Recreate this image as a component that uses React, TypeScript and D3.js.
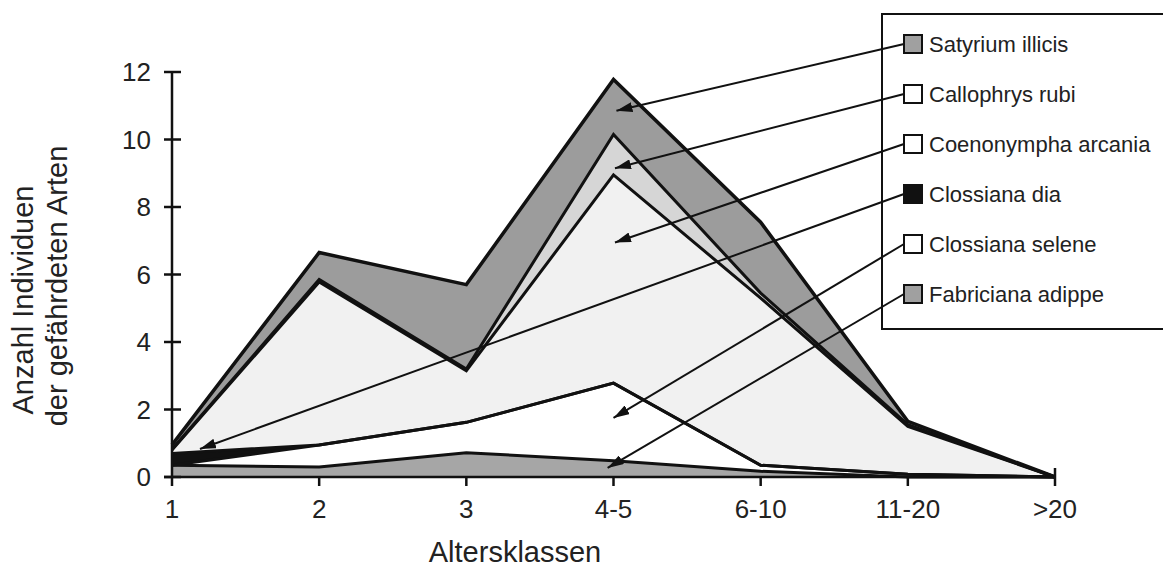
import React, { useRef, useEffect } from 'react';
import * as d3 from 'd3';

// Altersklassen (x categories)
const categories = ['1', '2', '3', '4-5', '6-10', '11-20', '>20'];
const yTicks = [0, 2, 4, 6, 8, 10, 12];

// Individuals per species and age class (read from the stacked areas)
const fabricianaAdippe = [0.35, 0.3, 0.72, 0.48, 0.17, 0, 0];
const clossianaSelene = [0, 0.65, 0.9, 2.3, 0.18, 0.08, 0];
const clossianaDia = [0.35, 0, 0, 0, 0, 0, 0];
const coenonymphaArcania = [0.1, 4.83, 1.53, 6.17, 4.95, 1.42, 0];
const callophrysRubi = [0.02, 0.07, 0.05, 1.2, 0.15, 0.05, 0];
const satyriumIllicis = [0.13, 0.8, 2.5, 1.63, 2.1, 0.1, 0];

// legend order (top to bottom)
const legendNames = [
  'Satyrium illicis',
  'Callophrys rubi',
  'Coenonympha arcania',
  'Clossiana dia',
  'Clossiana selene',
  'Fabriciana adippe'
];

// where each leader arrow points: category position (index) and value
const arrowAt = [3.02, 3.01, 3.01, 0.19, 3.0, 2.96];
const arrowValue = [10.85, 9.15, 6.95, 0.83, 1.75, 0.27];

const W = 1163;
const H = 570;
const FONT = '"Liberation Sans", Arial, Helvetica, sans-serif';

export default function App() {
  const svgRef = useRef<SVGSVGElement>(null);

  useEffect(() => {
    if (!svgRef.current) return;
    const svg = d3.select(svgRef.current);
    svg.selectAll('*').remove();

    const x = d3.scalePoint<string>().domain(categories).range([172, 1055]);
    const xi = d3.scaleLinear().domain([0, categories.length - 1]).range([172, 1055]);
    const y = d3.scaleLinear().domain([0, 12]).range([477, 72]);

    // stacked from the ground up
    const series = [
      { name: 'Fabriciana adippe', values: fabricianaAdippe, fill: '#a6a6a6', swatch: '#a0a0a0' },
      { name: 'Clossiana selene', values: clossianaSelene, fill: '#ffffff', swatch: '#ffffff' },
      { name: 'Clossiana dia', values: clossianaDia, fill: '#111111', swatch: '#111111' },
      { name: 'Coenonympha arcania', values: coenonymphaArcania, fill: '#f1f1f1', swatch: '#ffffff' },
      { name: 'Callophrys rubi', values: callophrysRubi, fill: '#d6d6d6', swatch: '#ffffff' },
      { name: 'Satyrium illicis', values: satyriumIllicis, fill: '#9c9c9c', swatch: '#a0a0a0' }
    ];

    const table = categories.map((c, i) => {
      const row: Record<string, any> = { cat: c };
      series.forEach(s => { row[s.name] = s.values[i]; });
      return row;
    });

    const stacked = d3.stack<any>().keys(series.map(s => s.name))(table);

    const area = d3.area<any>()
      .x(d => x(d.data.cat)!)
      .y0(d => y(d[0]))
      .y1(d => y(d[1]));

    const topLine = d3.line<any>()
      .x(d => x(d.data.cat)!)
      .y(d => y(d[1]));

    const defs = svg.append('defs');
    defs.append('marker')
      .attr('id', 'arrowhead')
      .attr('viewBox', '0 0 16 10')
      .attr('refX', 16)
      .attr('refY', 5)
      .attr('markerWidth', 16)
      .attr('markerHeight', 10)
      .attr('markerUnits', 'userSpaceOnUse')
      .attr('orient', 'auto')
      .append('path')
      .attr('d', 'M0,0 L16,5 L0,10 Z')
      .attr('fill', '#111');

    const g = svg.append('g');

    // areas
    g.selectAll('.layer')
      .data(stacked)
      .enter()
      .append('path')
      .attr('class', 'layer')
      .attr('fill', (d, i) => series[i].fill)
      .attr('d', area);

    // outlines
    g.selectAll('.edge')
      .data(stacked)
      .enter()
      .append('path')
      .attr('class', 'edge')
      .attr('fill', 'none')
      .attr('stroke', '#111')
      .attr('stroke-width', (d, i) => (i === stacked.length - 1 ? 3.5 : 3))
      .attr('stroke-linejoin', 'miter')
      .attr('d', topLine);

    // y axis
    g.append('line')
      .attr('x1', 172).attr('x2', 172)
      .attr('y1', y(0)).attr('y2', y(12))
      .attr('stroke', '#111').attr('stroke-width', 2.5);

    g.selectAll('.ytick')
      .data(yTicks)
      .enter()
      .append('line')
      .attr('x1', 164).attr('x2', 181)
      .attr('y1', d => y(d)).attr('y2', d => y(d))
      .attr('stroke', '#111').attr('stroke-width', 2.5);

    g.selectAll('.ylabel')
      .data(yTicks)
      .enter()
      .append('text')
      .attr('x', 151)
      .attr('y', d => y(d) + 9)
      .attr('text-anchor', 'end')
      .attr('font-family', FONT)
      .attr('font-size', 26)
      .attr('fill', '#222')
      .text(d => d);

    // x axis
    g.append('line')
      .attr('x1', 164).attr('x2', 1055)
      .attr('y1', y(0)).attr('y2', y(0))
      .attr('stroke', '#111').attr('stroke-width', 2.5);

    g.selectAll('.xtick')
      .data(categories)
      .enter()
      .append('line')
      .attr('x1', d => x(d)!).attr('x2', d => x(d)!)
      .attr('y1', d => (d === '>20' ? y(0) - 9 : y(0)))
      .attr('y2', y(0) + 9)
      .attr('stroke', '#111').attr('stroke-width', 2.5);

    g.selectAll('.xlabel')
      .data(categories)
      .enter()
      .append('text')
      .attr('x', d => x(d)!)
      .attr('y', 518)
      .attr('text-anchor', 'middle')
      .attr('font-family', FONT)
      .attr('font-size', 26)
      .attr('fill', '#222')
      .text(d => d);

    // axis titles
    svg.append('text')
      .attr('x', 515)
      .attr('y', 562)
      .attr('text-anchor', 'middle')
      .attr('font-family', FONT)
      .attr('font-size', 29)
      .attr('fill', '#222')
      .text('Altersklassen');

    svg.append('text')
      .attr('transform', 'translate(33, 300) rotate(-90)')
      .attr('text-anchor', 'middle')
      .attr('font-family', FONT)
      .attr('font-size', 29)
      .attr('fill', '#222')
      .text('Anzahl Individuen');

    svg.append('text')
      .attr('transform', 'translate(67, 286) rotate(-90)')
      .attr('text-anchor', 'middle')
      .attr('font-family', FONT)
      .attr('font-size', 29)
      .attr('fill', '#222')
      .text('der gefährdeten Arten');

    // legend
    const legend = svg.append('g');
    legend.append('rect')
      .attr('x', 882).attr('y', 14)
      .attr('width', 320).attr('height', 315)
      .attr('fill', '#fff')
      .attr('stroke', '#111').attr('stroke-width', 2);

    const rowY = (i: number) => 44 + i * 50;
    const byName = new Map(series.map(s => [s.name, s]));

    // leader lines with arrows
    legend.selectAll('.leader')
      .data(legendNames)
      .enter()
      .append('line')
      .attr('x1', 904)
      .attr('y1', (d, i) => rowY(i))
      .attr('x2', (d, i) => xi(arrowAt[i]))
      .attr('y2', (d, i) => y(arrowValue[i]))
      .attr('stroke', '#111')
      .attr('stroke-width', 2)
      .attr('marker-end', 'url(#arrowhead)');

    legend.selectAll('.swatch')
      .data(legendNames)
      .enter()
      .append('rect')
      .attr('x', 904)
      .attr('y', (d, i) => rowY(i) - 9)
      .attr('width', 18).attr('height', 18)
      .attr('fill', d => byName.get(d)!.swatch)
      .attr('stroke', '#111').attr('stroke-width', 2);

    legend.selectAll('.name')
      .data(legendNames)
      .enter()
      .append('text')
      .attr('x', 929)
      .attr('y', (d, i) => rowY(i) + 8)
      .attr('font-family', FONT)
      .attr('font-size', 22)
      .attr('fill', '#222')
      .text(d => d);
  }, []);

  return (
    <svg
      ref={svgRef}
      width={W}
      height={H}
      style={{ position: 'absolute', left: 0, top: 0, background: '#fff' }}
    />
  );
}
